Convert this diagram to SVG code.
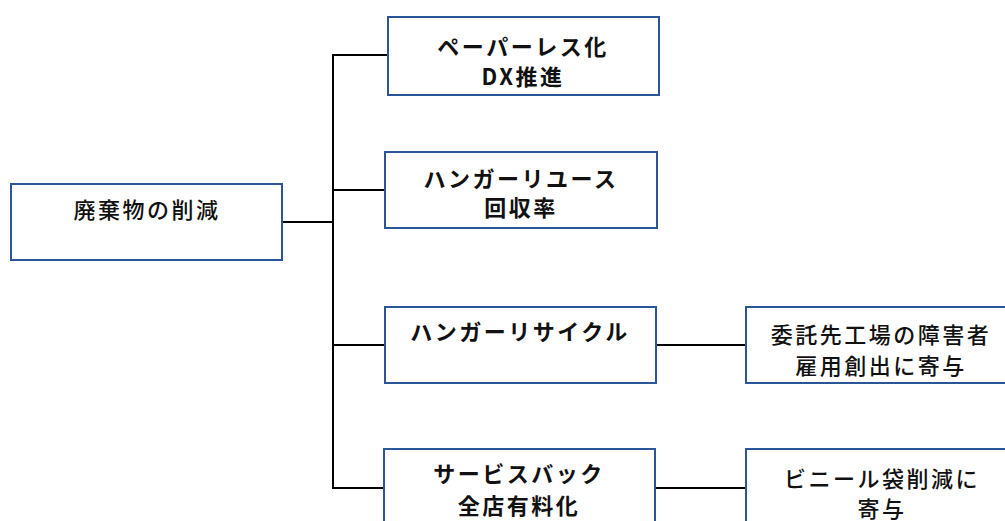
<svg xmlns="http://www.w3.org/2000/svg" width="1005" height="521" viewBox="0 0 1005 521">
<style>
.box{fill:#fff;stroke:#2A5597;stroke-width:2}
.ln{fill:none;stroke:#000;stroke-width:2}
text{font-family:"Noto Sans CJK JP","Noto Sans",sans-serif;font-size:22px;font-weight:500;letter-spacing:2.5px;fill:#111;text-anchor:middle;dominant-baseline:central}
.b{font-weight:bold}
</style>
<rect width="1005" height="521" fill="#fff"/>
<g id="connectors">
<polyline class="ln" points="282,222 333,222"/>
<polyline class="ln" points="388,55 333,55 333,488 385,488"/>
<polyline class="ln" points="333,190 385,190"/>
<polyline class="ln" points="333,345 385,345"/>
<polyline class="ln" points="656,345 746,345"/>
<polyline class="ln" points="655,488 746,488"/>
</g>
<g id="root">
<rect class="box" x="11" y="184" width="271" height="76"/>
<text x="147" y="208">廃棄物の削減</text>
</g>
<g id="n1">
<rect class="box" x="388" y="17" width="271" height="78"/>
<text class="b" x="523" y="45">ペーパーレス化</text>
<text class="b" x="523" y="75">DX推進</text>
</g>
<g id="n2">
<rect class="box" x="385" y="152" width="272" height="76"/>
<text class="b" x="521" y="177">ハンガーリユース</text>
<text class="b" x="521" y="206">回収率</text>
</g>
<g id="n3">
<rect class="box" x="385" y="307" width="271" height="76"/>
<text class="b" x="520" y="330">ハンガーリサイクル</text>
</g>
<g id="n4">
<rect class="box" x="384" y="449" width="271" height="90"/>
<text class="b" x="519" y="472">サービスバック</text>
<text class="b" x="519" y="504">全店有料化</text>
</g>
<g id="n5">
<rect class="box" x="746" y="307" width="268" height="76"/>
<text x="881" y="333">委託先工場の障害者</text>
<text x="881" y="364">雇用創出に寄与</text>
</g>
<g id="n6">
<rect class="box" x="746" y="449" width="268" height="90"/>
<text x="882" y="477">ビニール袋削減に</text>
<text x="882" y="507">寄与</text>
</g>
</svg>
